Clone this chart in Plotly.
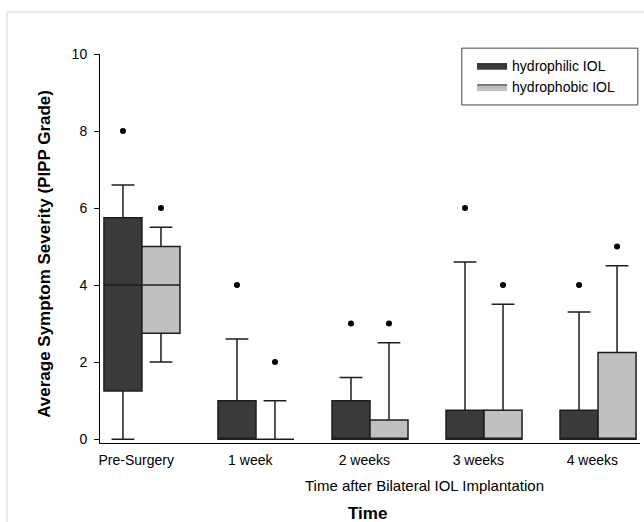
import plotly.graph_objects as go

# ---- data ----
categories = ["Pre-Surgery", "1 week", "2 weeks", "3 weeks", "4 weeks"]

philic_q1 = [1.25, 0, 0, 0, 0]
philic_median = [4, 0, 0, 0, 0]
philic_q3 = [5.75, 1, 1, 0.75, 0.75]
philic_lower = [0, 0, 0, 0, 0]
philic_upper = [6.6, 2.6, 1.6, 4.6, 3.3]
philic_outliers = [8, 4, 3, 6, 4]

phobic_q1 = [2.75, 0, 0, 0, 0]
phobic_median = [4, 0, 0, 0, 0]
phobic_q3 = [5, 0, 0.5, 0.75, 2.25]
phobic_lower = [2, 0, 0, 0, 0]
phobic_upper = [5.5, 1, 2.5, 3.5, 4.5]
phobic_outliers = [6, 2, 3, 4, 5]

y_ticks = [0, 2, 4, 6, 8, 10]

# ---- styling ----
FONT = "Liberation Sans, Arial, sans-serif"
DARK = "#3a3a3a"
LIGHT = "#c0c0c0"
EDGE = "#1e1e1e"
BOX_W = 1 / 3
OFF = BOX_W / 2
LABEL_SHIFT = 0.05  # category labels sit slightly left of the box pair

idx = list(range(len(categories)))
x_philic = [i - OFF for i in idx]
x_phobic = [i + OFF for i in idx]

fig = go.Figure()

for xs, q1, med, q3, lo, hi, col in [
    (x_philic, philic_q1, philic_median, philic_q3, philic_lower, philic_upper, DARK),
    (x_phobic, phobic_q1, phobic_median, phobic_q3, phobic_lower, phobic_upper, LIGHT),
]:
    fig.add_trace(go.Box(
        x=xs, q1=q1, median=med, q3=q3, lowerfence=lo, upperfence=hi,
        width=BOX_W, fillcolor=col, line=dict(color=EDGE, width=1.5),
        whiskerwidth=0.6, boxpoints=False, showlegend=False, hoverinfo="skip",
    ))

for xs, ys in [(x_philic, philic_outliers), (x_phobic, phobic_outliers)]:
    fig.add_trace(go.Scatter(
        x=xs, y=ys, mode="markers",
        marker=dict(color="black", size=6), showlegend=False, hoverinfo="skip",
    ))

# legend entries (rectangular swatches)
for name, col in [("hydrophilic IOL", DARK), ("hydrophobic IOL", LIGHT)]:
    fig.add_trace(go.Scatter(
        x=[None], y=[None], mode="lines", fill="toself", fillcolor=col,
        line=dict(color=EDGE, width=1), name=name,
    ))

fig.update_layout(
    width=644, height=522,
    margin=dict(l=100, r=4, t=54, b=79),
    paper_bgcolor="white", plot_bgcolor="white",
    font=dict(family=FONT, size=14, color="black"),
    showlegend=True,
    legend=dict(
        x=0.689, y=1.01, xanchor="left", yanchor="top",
        bgcolor="rgba(0,0,0,0)", borderwidth=0,
        font=dict(size=14, family=FONT, color="black"),
        itemwidth=30, tracegroupgap=0,
    ),
    xaxis=dict(
        range=[-0.368, 4.368], tickmode="array",
        tickvals=[i - LABEL_SHIFT for i in idx], ticktext=categories,
        showline=True, linecolor="black", linewidth=1, showgrid=False, zeroline=False,
        ticks="outside", ticklen=4, tickcolor="rgba(0,0,0,0)",
        tickfont=dict(size=14),
    ),
    yaxis=dict(
        range=[-0.1, 10], tickmode="array", tickvals=y_ticks,
        showline=True, linecolor="black", linewidth=1, showgrid=False, zeroline=False,
        ticks="outside", ticklen=5, tickcolor="black", tickfont=dict(size=14),
        ticklabelstandoff=4,
    ),
    shapes=[
        # outer light frame
        dict(type="rect", xref="paper", yref="paper", x0=-0.1722, x1=1.3, y0=-0.6, y1=1.108,
             line=dict(color="#d4d4d4", width=1), fillcolor="rgba(0,0,0,0)", layer="below"),
        # legend border
        dict(type="rect", xref="paper", yref="paper", x0=0.670, x1=0.996, y0=0.869, y1=1.015,
             line=dict(color="#444", width=1), fillcolor="rgba(0,0,0,0)"),
    ],
    annotations=[
        dict(text="Time after Bilateral IOL Implantation", xref="paper", yref="paper",
             x=0.6, y=-0.108, xanchor="center", yanchor="middle", showarrow=False,
             font=dict(size=15, family=FONT)),
        dict(text="<b>Time</b>", xref="paper", yref="paper",
             x=0.496, y=-0.1825, xanchor="center", yanchor="middle", showarrow=False,
             font=dict(size=17, family=FONT)),
        dict(text="<b>Average Symptom Severity (PIPP Grade)</b>", xref="paper", yref="paper",
             x=-0.102, y=0.486, xanchor="center", yanchor="middle", showarrow=False,
             textangle=-90, font=dict(size=17, family=FONT)),
    ],
)

fig.write_html("out.html", config={"displayModeBar": False},
               post_script="document.body.style.margin='0';")
